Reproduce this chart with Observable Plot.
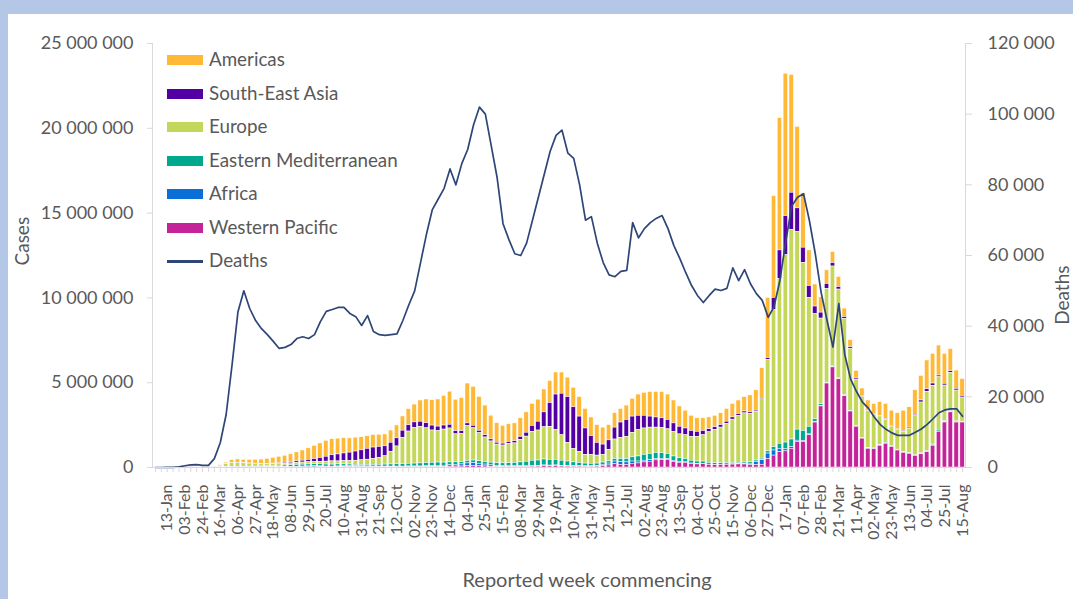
<!DOCTYPE html>
<html>
<head>
<meta charset="utf-8">
<script src="https://cdn.jsdelivr.net/npm/d3@7"></script>
<script src="https://cdn.jsdelivr.net/npm/@observablehq/plot@0.6"></script>
<style>
  html, body { margin: 0; padding: 0; width: 1073px; height: 599px; overflow: hidden; background: #b4c7e7; font-family: Lato, sans-serif; }
  #panel { position: absolute; left: 8px; top: 14px; width: 1065px; height: 585px; background: #ffffff; overflow: hidden; }
  .lg { position: absolute; left: 167px; height: 24px; line-height: 24px; font-size: 18.8px; color: #595959; white-space: nowrap; }
  .lg .sw { display: inline-block; width: 36px; height: 10px; margin-right: 6px; vertical-align: middle; position: relative; top: -1px; }
  .lg .ln { display: inline-block; width: 36px; height: 3px; margin-right: 6px; vertical-align: middle; position: relative; top: -1px; }
</style>
</head>
<body>
<div id="panel"></div>
<div id="legend"></div>
<script>
// Week commencing (categories)
const weeks = [
"2019-12-30",
"2020-01-06","2020-01-13","2020-01-20","2020-01-27",
"2020-02-03","2020-02-10","2020-02-17","2020-02-24",
"2020-03-02","2020-03-09","2020-03-16","2020-03-23","2020-03-30",
"2020-04-06","2020-04-13","2020-04-20","2020-04-27",
"2020-05-04","2020-05-11","2020-05-18","2020-05-25",
"2020-06-01","2020-06-08","2020-06-15","2020-06-22","2020-06-29",
"2020-07-06","2020-07-13","2020-07-20","2020-07-27",
"2020-08-03","2020-08-10","2020-08-17","2020-08-24","2020-08-31",
"2020-09-07","2020-09-14","2020-09-21","2020-09-28",
"2020-10-05","2020-10-12","2020-10-19","2020-10-26",
"2020-11-02","2020-11-09","2020-11-16","2020-11-23","2020-11-30",
"2020-12-07","2020-12-14","2020-12-21","2020-12-28",
"2021-01-04","2021-01-11","2021-01-18","2021-01-25",
"2021-02-01","2021-02-08","2021-02-15","2021-02-22",
"2021-03-01","2021-03-08","2021-03-15","2021-03-22","2021-03-29",
"2021-04-05","2021-04-12","2021-04-19","2021-04-26",
"2021-05-03","2021-05-10","2021-05-17","2021-05-24","2021-05-31",
"2021-06-07","2021-06-14","2021-06-21","2021-06-28",
"2021-07-05","2021-07-12","2021-07-19","2021-07-26",
"2021-08-02","2021-08-09","2021-08-16","2021-08-23","2021-08-30",
"2021-09-06","2021-09-13","2021-09-20","2021-09-27",
"2021-10-04","2021-10-11","2021-10-18","2021-10-25",
"2021-11-01","2021-11-08","2021-11-15","2021-11-22","2021-11-29",
"2021-12-06","2021-12-13","2021-12-20","2021-12-27",
"2022-01-03","2022-01-10","2022-01-17","2022-01-24","2022-01-31",
"2022-02-07","2022-02-14","2022-02-21","2022-02-28",
"2022-03-07","2022-03-14","2022-03-21","2022-03-28",
"2022-04-04","2022-04-11","2022-04-18","2022-04-25",
"2022-05-02","2022-05-09","2022-05-16","2022-05-23","2022-05-30",
"2022-06-06","2022-06-13","2022-06-20","2022-06-27",
"2022-07-04","2022-07-11","2022-07-18","2022-07-25",
"2022-08-01","2022-08-08","2022-08-15"
];

// Labelled weeks on the category axis
const tickWeeks = [
"2020-01-13","2020-02-03","2020-02-24","2020-03-16","2020-04-06","2020-04-27","2020-05-18","2020-06-08",
"2020-06-29","2020-07-20","2020-08-10","2020-08-31","2020-09-21","2020-10-12","2020-11-02","2020-11-23",
"2020-12-14","2021-01-04","2021-01-25","2021-02-15","2021-03-08","2021-03-29","2021-04-19","2021-05-10",
"2021-05-31","2021-06-21","2021-07-12","2021-08-02","2021-08-23","2021-09-13","2021-10-04","2021-10-25",
"2021-11-15","2021-12-06","2021-12-27","2022-01-17","2022-02-07","2022-02-28","2022-03-21","2022-04-11",
"2022-05-02","2022-05-23","2022-06-13","2022-07-04","2022-07-25","2022-08-15"
];

// Weekly cases by WHO region (thousands)
const americas = [
0,0,0,0,0,0,0,0,0.1,0.3,
3,25,90,170,200,200,210,230,260,290,
340,390,420,460,530,600,680,780,860,940,
950,930,900,840,820,770,740,740,720,700,
720,760,840,950,1050,1250,1400,1500,1600,1750,
1950,1850,1950,2350,2300,2000,1750,1400,1150,1050,
1050,1050,1100,1200,1300,1300,1350,1300,1300,1250,
1150,1150,1150,1150,1100,1050,1000,900,850,800,
850,1050,1250,1350,1450,1500,1550,1500,1350,1200,
1050,900,800,750,700,680,700,750,800,800,
850,1000,1200,1750,3550,6000,7800,8400,6950,4800,
3200,2100,1300,900,800,650,600,500,420,450,
450,600,600,800,900,900,950,1200,1200,1450,
1450,1700,1750,1770,1770,1300,1080,1000
];
const southEastAsia = [
0,0,0,0,0,0,0,0,0,0.05,
0.3,0.5,1,2.5,5,8,11,14,20,28,
38,45,60,75,95,110,140,175,230,290,
360,410,450,490,540,590,640,670,640,590,
530,480,420,370,330,310,300,290,270,240,
220,190,170,160,150,140,130,120,110,110,
120,130,170,230,350,520,880,1400,2100,2450,
2700,2450,2080,1550,1100,750,600,560,700,900,
1000,950,850,750,650,600,580,550,500,450,
400,350,300,250,180,170,150,140,130,120,
110,100,90,80,100,700,1700,2300,2200,1400,
900,700,450,350,300,200,150,100,100,80,
60,40,40,40,40,40,40,50,60,80,
120,150,150,100,100,100,100,90
];
const europe = [
0,0,0,0,0.01,0.02,0.01,0.05,1,8,
40,90,170,230,230,200,180,160,130,120,
110,100,100,105,115,125,130,130,130,135,
150,165,190,210,240,270,310,350,410,490,
750,1050,1550,1900,2100,2150,2050,1900,1850,1950,
2000,1650,1650,2050,1900,1650,1450,1250,1100,1050,
1130,1150,1330,1480,1700,1770,1900,1950,1750,1500,
1100,800,650,520,530,470,460,680,1150,1250,
1300,1450,1550,1550,1550,1490,1470,1450,1450,1400,
1400,1400,1450,1550,1800,1950,2100,2300,2550,2750,
2900,2850,2850,3500,5400,8100,9700,11050,12350,11650,
9900,7600,6200,5050,5470,5870,5220,4510,3640,2700,
2390,2170,1990,1690,1360,1160,1160,1200,1450,2300,
3000,3500,3450,3100,2100,2250,1820,1420
];
const easternMediterranean = [
0,0,0,0,0,0,0,0,0.5,5,
9,12,18,22,28,33,35,38,42,50,
60,72,85,100,108,115,115,110,100,95,
90,85,85,85,85,85,90,100,110,120,
130,140,150,160,170,180,190,200,200,180,
170,150,140,150,150,150,150,160,160,170,
180,200,220,250,300,310,350,340,330,300,
260,220,190,160,140,130,130,130,150,180,
200,250,300,350,370,360,340,310,270,230,
200,170,150,140,110,100,95,90,85,80,
75,80,80,90,130,200,300,400,450,650,
600,450,150,100,80,60,50,40,30,50,
40,20,20,20,20,20,20,20,20,20,
30,40,50,100,60,60,50,40
];
const africa = [
0,0,0,0,0,0,0,0,0,0.1,
0.2,0.5,1.5,3,4,5,6,8,10,13,
16,20,25,30,38,45,55,70,85,95,
95,80,70,60,50,45,40,35,32,30,
30,30,30,35,35,35,40,45,50,60,
80,100,120,160,170,140,110,80,55,45,
40,40,45,50,50,45,45,40,40,40,
35,30,30,30,35,45,70,110,160,170,
150,130,110,100,90,80,70,60,50,40,
30,25,20,15,15,15,15,15,15,20,
40,90,190,270,320,300,200,120,100,80,
60,50,40,30,25,20,20,20,15,15,
15,20,20,20,30,30,30,20,20,20,
20,20,20,20,20,20,15,15
];
const westernPacific = [
0,0,0.1,1.5,12,23,35,5,5,6,
3,4,5,7,7,8,7,5,4,4,
5,5,5,6,6,7,8,10,15,20,
25,28,30,30,25,22,20,20,20,20,
20,20,20,25,25,25,30,35,40,45,
50,55,60,80,90,80,60,45,35,30,
30,30,35,40,50,55,75,70,80,60,
55,50,50,40,45,55,90,120,190,150,
150,220,240,300,340,420,440,430,330,280,
270,205,180,195,150,135,140,155,170,180,
175,130,140,160,500,700,900,950,1100,1500,
1500,1900,2650,3600,4950,5900,5200,4200,3300,2400,
1700,1100,1080,1280,1400,1200,1000,860,800,680,
780,900,1280,2100,2650,3250,2650,2650
];
// Weekly deaths, all regions (thousands)
const deaths = [
0,0,0.01,0.05,0.2,0.5,0.75,0.8,0.6,0.6,
2.5,7,15,29,44,50,45,41.6,39.3,37.6,
35.7,33.7,34,34.8,36.5,37,36.5,37.6,41.3,44.2,
44.7,45.3,45.3,43.6,42.7,40.2,43,38.5,37.6,37.4,
37.6,37.8,41.6,46,50,58,66,73,76,79,
84.5,80,86,90,97,102,100,91,82,69,
64.5,60.5,60,63.5,70,76.5,83,89.5,94,95.5,
89,87.5,80,70,71,63.5,58,54.5,54,55.5,
55.8,69.3,65,67.6,69.3,70.5,71.3,67.6,62.8,59.2,
55.2,51.5,48.7,46.7,48.7,50.5,50.1,50.7,56.5,52.9,
56,52,49.2,47.3,42.5,45.5,53,64,74,76.5,
77.5,69.9,60.5,49.5,41.6,34.1,46.4,32,25,21.5,
18.5,16.8,14.3,12.2,10.8,9.8,9.1,9.1,9.1,10,
10.9,12.2,13.8,15.5,16.3,16.6,16.6,14.5
];

const regionNames = ["Americas","South-East Asia","Europe","Eastern Mediterranean","Africa","Western Pacific"];
const regionColors = ["#ffb936","#5200a3","#c4d75a","#00a88e","#0a6fd6","#c4239a"];
const regionSeries = [americas, southEastAsia, europe, easternMediterranean, africa, westernPacific];
const stackOrder = ["Western Pacific","Africa","Eastern Mediterranean","Europe","South-East Asia","Americas"];
const caseTicks = [0, 5e6, 10e6, 15e6, 20e6, 25e6];
const deathTicks = [0, 20000, 40000, 60000, 80000, 100000, 120000];
const deathsColor = "#2e4677";

const rows = [];
regionNames.forEach((name, r) => {
  weeks.forEach((w, i) => rows.push({week: w, region: name, value: regionSeries[r][i] * 1000}));
});
const k = 25e6 / 120000; // deaths axis (0–120 000) shares the cases axis (0–25 000 000)
const deathRows = weeks.map((w, i) => ({week: w, deaths: deaths[i] * 1000}));

const fmtNum = d => d3.format(",")(d).replace(/,/g, " ");
const fmtWeek = d => d3.utcFormat("%d-%b")(d3.isoParse(d));
const grey = "#595959";
const axisLine = "#d9d9d9";

const plot = Plot.plot({
  width: 1065,
  height: 585,
  marginLeft: 144,
  marginRight: 108,
  marginTop: 29,
  marginBottom: 132,
  style: {fontFamily: "Lato, sans-serif", fontSize: "16px", color: grey, background: "#ffffff"},
  x: {type: "band", domain: weeks, paddingInner: 0.25, paddingOuter: 0.125, axis: null},
  y: {domain: [0, 25e6], axis: null},
  color: {domain: regionNames, range: regionColors},
  marks: [
    Plot.barY(rows, Plot.stackY({x: "week", y: "value", fill: "region", order: stackOrder, stroke: "#ffffff", strokeWidth: 0.5})),
    Plot.line(deathRows, {x: "week", y: d => d.deaths * k, stroke: deathsColor, strokeWidth: 1.7, curve: "linear"}),
    Plot.ruleY([0], {stroke: axisLine}),
    Plot.frame({anchor: "left", stroke: axisLine}),
    Plot.frame({anchor: "right", stroke: axisLine}),
    Plot.axisY(caseTicks, {anchor: "left", tickFormat: fmtNum, tickSize: 5, tickPadding: 14, stroke: axisLine, fill: grey, fontSize: 18, label: null}),
    Plot.axisY(deathTicks.map(d => d * k), {anchor: "right", tickFormat: d => fmtNum(Math.round(d / k)), tickSize: 6, tickPadding: 16, stroke: axisLine, fill: grey, fontSize: 18, label: null}),
    Plot.axisX(weeks, {tickSize: 5, tickFormat: () => "", stroke: axisLine, label: null}),
    Plot.axisX(tickWeeks, {tickSize: 0, tickPadding: 17, tickRotate: -90, tickFormat: fmtWeek, fill: grey, fontSize: 16, label: null}),
    Plot.text(["Cases"], {frameAnchor: "left", dx: -130, dy: 10, rotate: -90, fontSize: 19, fill: grey}),
    Plot.text(["Deaths"], {frameAnchor: "right", dx: 97, dy: 10, rotate: -90, fontSize: 19, fill: grey}),
    Plot.text(["Reported week commencing"], {frameAnchor: "bottom", dx: 28, dy: 119, fontSize: 20, fill: grey})
  ]
});
document.getElementById("panel").appendChild(plot);

// Legend (inside plot area, top-left)
const legendItems = regionNames.map((n, i) => ({name: n, color: regionColors[i], type: "bar"}))
  .concat([{name: "Deaths", color: deathsColor, type: "line"}]);
const legendY = [59, 92.5, 126, 160, 193, 226.5, 260];
const lg = document.getElementById("legend");
legendItems.forEach((it, i) => {
  const d = document.createElement("div");
  d.className = "lg";
  d.style.top = (legendY[i] - 12) + "px";
  const s = document.createElement("span");
  s.className = it.type === "bar" ? "sw" : "ln";
  s.style.background = it.color;
  d.appendChild(s);
  d.appendChild(document.createTextNode(it.name));
  lg.appendChild(d);
});
</script>
</body>
</html>
